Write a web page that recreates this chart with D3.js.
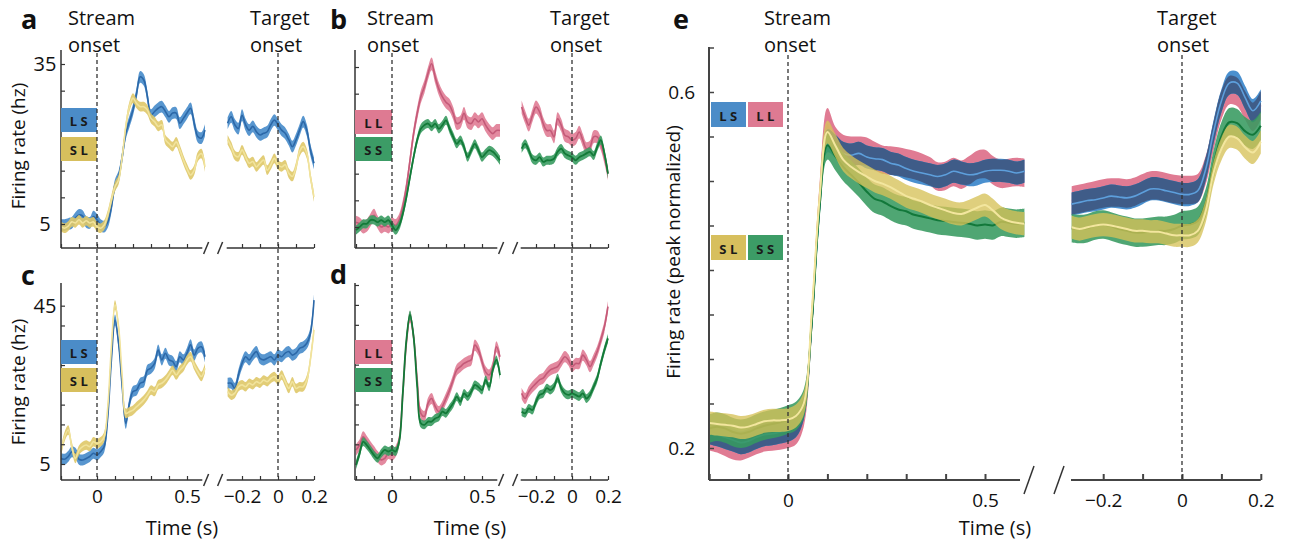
<!DOCTYPE html>
<html><head><meta charset="utf-8">
<script src="https://cdn.jsdelivr.net/npm/d3@7"></script>
<style>
body{margin:0;background:#fff}
svg{display:block}
text{font-family:"Open Sans","Noto Sans",sans-serif;fill:#111}
</style></head>
<body><svg id="chart" width="1295" height="544"></svg>
<script>
// ---------------- DATA ----------------
const tLeft = [-0.2,-0.18,-0.16,-0.14,-0.12,-0.1,-0.08,-0.06,-0.04,-0.02,0,0.02,0.04,0.06,0.08,0.1,0.12,0.14,0.16,0.18,0.2,0.22,0.24,0.26,0.28,0.3,0.32,0.34,0.36,0.38,0.4,0.42,0.44,0.46,0.48,0.5,0.52,0.54,0.56,0.58,0.6];
const tRight = [-0.28,-0.26,-0.24,-0.22,-0.2,-0.18,-0.16,-0.14,-0.12,-0.1,-0.08,-0.06,-0.04,-0.02,0,0.02,0.04,0.06,0.08,0.1,0.12,0.14,0.16,0.18,0.2];

// panel a (Hz)
const aLS_left = [4.8,4.8,5.0,5.2,6.1,6.7,6.5,5.4,5.2,6.4,5.8,4.8,4.5,5.4,8.2,12.3,13.9,17.6,22.0,24.2,26.4,29.5,32.6,32.0,28.9,25.4,26.1,26.7,27.0,26.1,25.1,25.8,25.8,23.9,24.8,25.8,26.7,23.9,21.4,21.1,22.6];
const aSL_left = [4.5,4.2,4.6,5.4,5.2,5.8,5.2,5.6,5.2,5.4,4.5,4.2,4.8,6.7,9.5,12.0,13.3,17.6,23.3,27.0,28.6,27.6,27.0,27.0,26.4,24.8,24.2,23.3,23.6,20.8,20.1,19.5,20.4,18.9,17.0,15.4,14.2,15.1,17.6,18.2,15.7];
const aLS_right = [23.9,25.1,23.6,22.9,25.4,23.6,22.6,23.3,22.3,21.7,22.0,22.3,23.6,24.5,23.6,22.6,22.0,20.8,19.5,20.8,22.6,24.2,22.6,18.9,16.4];
const aSL_right = [20.8,19.5,17.9,17.6,18.9,17.6,16.4,16.7,15.7,16.4,17.0,15.1,16.1,17.3,16.1,15.7,16.1,14.5,13.9,15.7,18.6,19.5,18.2,13.9,10.1];
// panel b
const bLL_left = [5.9,5.6,5.0,5.3,6.3,7.2,5.9,5.0,5.3,5.0,5.6,5.3,6.3,8.8,12.5,17.5,22.5,26.3,29.4,31.3,33.8,35.6,33.1,30.9,29.4,28.4,27.8,26.3,24.4,24.7,26.3,24.7,24.4,25.3,24.7,25.3,24.1,23.1,22.5,23.1,23.1];
const bSS_left = [4.4,5.0,5.6,5.6,6.3,6.3,5.9,6.3,5.9,6.3,5.3,4.4,5.3,7.5,10.6,14.4,18.1,21.3,23.4,24.1,24.4,23.8,24.4,23.4,24.1,25.0,23.4,21.9,20.6,21.3,20.0,18.1,19.4,20.6,19.4,18.1,18.8,19.4,19.1,18.4,17.5];
const bLL_right = [27.5,25.6,24.1,25.9,27.5,26.6,24.4,23.1,23.1,21.9,25.3,24.1,22.2,21.9,21.3,21.6,22.8,21.3,19.7,20.0,21.9,21.9,20.6,18.1,15.0];
const bSS_right = [19.7,20.6,19.4,17.8,17.5,18.1,17.2,17.5,17.5,17.8,19.1,19.7,18.8,18.4,18.1,17.5,18.1,18.4,18.8,19.1,18.4,20.0,21.3,18.8,15.0];
// panel c
const cLS_left = [6.4,6.2,6.9,8.1,7.7,6.2,6.0,6.4,6.9,7.7,7.3,8.1,9.4,17.0,31.3,41.4,35.5,24.5,15.3,20.3,23.3,23.7,25.4,25.8,28.7,29.2,30.4,33.8,31.3,33.0,31.3,30.9,29.6,32.1,31.3,33.0,35.1,32.5,34.2,34.6,32.1];
const cSL_left = [8.1,11.9,13.6,9.4,6.4,8.5,9.4,9.8,9.4,10.6,10.2,10.6,11.9,19.5,34.6,45.2,39.7,27.1,17.8,18.2,18.6,19.5,20.3,21.2,22.4,23.7,23.3,25.0,25.4,26.2,27.5,28.7,27.5,28.7,29.6,31.3,32.1,30.0,28.3,27.1,29.2];
const cLS_right = [25.4,25.4,24.1,27.5,30.4,32.1,31.3,32.5,33.4,31.7,31.3,31.7,32.1,31.3,32.5,32.1,33.0,33.4,32.5,33.0,34.2,34.6,35.5,38.0,46.4];
const cSL_right = [23.3,22.4,22.9,24.5,25.0,24.5,25.4,25.0,25.8,25.4,26.2,25.8,26.6,27.1,26.2,27.5,25.8,24.1,25.8,24.1,24.5,24.5,26.2,31.3,38.9];
// panel d
const dLL_left = [8.6,9.8,11.9,10.7,9.4,8.2,6.9,6.1,6.5,7.7,7.3,8.2,11.1,22.8,35.4,42.0,37.0,26.2,17.8,17.0,20.3,21.5,19.5,18.2,19.5,21.5,23.6,26.2,28.7,29.5,30.3,30.8,31.2,34.9,33.7,30.8,28.2,27.4,29.5,34.5,32.0];
const dSS_left = [4.8,7.7,10.7,9.8,8.6,7.3,6.5,7.7,8.6,8.2,8.6,8.2,10.7,22.8,36.2,42.5,37.0,24.5,15.3,14.9,15.7,15.7,16.5,16.9,18.2,17.8,19.0,20.3,22.0,20.7,22.8,22.0,23.2,24.9,24.4,23.6,26.2,24.4,28.7,31.2,27.4];
const dLL_right = [22.8,21.5,23.2,24.4,25.3,26.2,26.6,27.8,28.7,29.1,29.5,30.8,32.0,31.2,29.5,30.3,30.3,32.4,31.2,29.5,31.2,33.3,36.2,39.5,44.6];
const dSS_right = [18.2,17.8,19.0,18.6,20.7,22.4,22.8,24.1,23.6,24.4,26.6,24.1,22.8,22.4,22.8,22.4,22.0,22.8,21.5,22.4,24.4,26.6,30.3,33.7,36.6];
// panel e (peak normalized)
const eLL_left = [0.213,0.211,0.207,0.203,0.202,0.205,0.209,0.212,0.213,0.214,0.216,0.220,0.240,0.340,0.480,0.566,0.545,0.536,0.534,0.534,0.533,0.528,0.524,0.523,0.522,0.520,0.518,0.515,0.511,0.505,0.506,0.510,0.507,0.512,0.518,0.519,0.512,0.508,0.509,0.510,0.509];
const eLS_left = [0.217,0.215,0.212,0.209,0.206,0.208,0.212,0.215,0.216,0.218,0.220,0.225,0.245,0.340,0.470,0.545,0.539,0.531,0.529,0.531,0.527,0.525,0.524,0.520,0.518,0.514,0.511,0.509,0.507,0.505,0.507,0.511,0.509,0.507,0.508,0.511,0.512,0.512,0.511,0.509,0.511];
const eSS_left = [0.222,0.224,0.222,0.218,0.216,0.218,0.222,0.225,0.227,0.229,0.232,0.236,0.250,0.340,0.470,0.540,0.528,0.516,0.507,0.498,0.488,0.480,0.477,0.472,0.468,0.466,0.462,0.460,0.458,0.456,0.455,0.454,0.453,0.452,0.450,0.451,0.450,0.454,0.453,0.452,0.453];
const eSL_left = [0.228,0.227,0.226,0.225,0.223,0.224,0.227,0.230,0.231,0.231,0.232,0.236,0.250,0.350,0.480,0.555,0.540,0.524,0.516,0.510,0.505,0.500,0.497,0.493,0.488,0.483,0.480,0.477,0.473,0.470,0.467,0.464,0.463,0.466,0.470,0.473,0.467,0.459,0.455,0.453,0.452];
const eLL_right = [0.478,0.480,0.482,0.484,0.486,0.487,0.487,0.486,0.488,0.492,0.495,0.495,0.493,0.491,0.490,0.490,0.492,0.512,0.550,0.585,0.602,0.600,0.585,0.572,0.585];
const eLS_right = [0.474,0.476,0.478,0.479,0.481,0.483,0.482,0.481,0.483,0.487,0.491,0.491,0.489,0.487,0.485,0.485,0.489,0.513,0.555,0.590,0.610,0.610,0.594,0.579,0.590];
const eSS_right = [0.447,0.446,0.447,0.450,0.451,0.449,0.446,0.444,0.442,0.442,0.443,0.444,0.444,0.446,0.450,0.451,0.455,0.475,0.518,0.550,0.566,0.565,0.556,0.552,0.562];
const eSL_right = [0.448,0.446,0.448,0.450,0.451,0.450,0.448,0.446,0.444,0.444,0.443,0.443,0.441,0.439,0.439,0.439,0.444,0.466,0.509,0.536,0.550,0.548,0.538,0.532,0.544];
// band half-widths (s.e.m.)
const semA = {LS:1.1, SL:0.9}, semB = {LL:1.2, SS:0.85}, semC = {LS:1.4, SL:1.2}, semD = {LL:1.4, SS:1.1};
const semE = {LL:0.016, LS:0.013, SS:0.016, SL:0.013};

// tick values / labels
const yTicksA = [5,10,15,20,25,30,35], yLabA = [5,35];
const yTicksB = [5,10,15,20,25,30,35];
const yTicksC = [5,10,15,20,25,30,35,40,45], yLabC = [5,45];
const yTicksD = [10,15,20,25,30,35,40,45,50];
const yTicksE = [0.2,0.25,0.3,0.35,0.4,0.45,0.5,0.55,0.6,0.65], yLabE = [0.2,0.6];
const xTicksL = [-0.2,-0.1,0,0.1,0.2,0.3,0.4,0.5], xLabL = [0,0.5];
const xTicksR = [-0.2,-0.1,0,0.1,0.2], xLabR = [-0.2,0,0.2];

// ---------------- STYLES ----------------
const ST = {
  LS:{band:"#4a8dcb", line:"#2c68a8", op:0.92, lw:1.6, box:"#4b8cc8"},
  SL:{band:"#dfc868", line:"#f1e39c", op:0.9, lw:1.6, box:"#d7bf5d"},
  LL:{band:"#e07c95", line:"#c45a78", op:0.9, lw:1.6, box:"#de7a92"},
  SS:{band:"#3d9d64", line:"#137a38", op:0.92, lw:1.8, box:"#3c9c66"}
};

const svg = d3.select("#chart");
const curve = d3.curveCatmullRom;

function drawSeries(g, x, y, T, v, sem, st, opts={}){
  const pts = T.map((t,i)=>({t, v:v[i]}));
  const area = d3.area().x(d=>x(d.t)).y0(d=>y(d.v-sem)).y1(d=>y(d.v+sem)).curve(curve);
  g.append("path").attr("d", area(pts)).attr("fill", opts.band||st.band).attr("opacity", opts.op||st.op);
  const line = d3.line().x(d=>x(d.t)).y(d=>y(d.v)).curve(curve);
  g.append("path").attr("d", line(pts)).attr("fill","none").attr("stroke", opts.line||st.line).attr("stroke-width", opts.lw||st.lw);
}
function drawOverlap(g, x, y, T, v1, s1, v2, s2, col){
  const pts = T.map((t,i)=>({t, lo:Math.max(v1[i]-s1, v2[i]-s2), hi:Math.min(v1[i]+s1, v2[i]+s2)}));
  const area = d3.area().defined(d=>d.hi>d.lo).x(d=>x(d.t)).y0(d=>y(d.lo)).y1(d=>y(d.hi)).curve(curve);
  g.append("path").attr("d", area(pts)).attr("fill", col);
}

function legendBox(x, y, w, h, label, col){
  svg.append("rect").attr("x",x).attr("y",y).attr("width",w).attr("height",h).attr("fill",col);
  svg.append("text").attr("x",x+w/2+1.5).attr("y",y+h/2+1).attr("text-anchor","middle").attr("dominant-baseline","central")
    .attr("font-size",13).attr("font-weight","bold").attr("letter-spacing","3.5px").style("fill","#1a1a1a").text(label);
}

function xAxis(y0, x, ticks, labs, x1, x2){
  const ax = d3.axisBottom(x).tickValues(ticks).tickSize(-4).tickSizeOuter(0).tickPadding(10)
     .tickFormat(d => labs && labs.some(l=>Math.abs(l-d)<1e-9) ? (d===0?"0":d3.format("")(d)) : "");
  const g = svg.append("g").attr("transform",`translate(0,${y0})`).call(ax);
  g.select(".domain").remove();
  g.append("line").attr("x1",x1).attr("x2",x2).attr("stroke","#333").attr("stroke-width",1.5);
  g.selectAll(".tick line").attr("stroke","#333").attr("stroke-width",1.2);
  g.selectAll(".tick text").attr("font-size",19).attr("font-family",'"Open Sans",sans-serif').style("fill","#111");
  return g;
}
function slash(cx, cy, w, h){
  svg.append("line").attr("x1",cx-w).attr("y1",cy+h).attr("x2",cx+w).attr("y2",cy-h).attr("stroke","#333").attr("stroke-width",1.5);
}
function dashed(x, y1, y2){
  svg.append("line").attr("x1",x).attr("x2",x).attr("y1",y1).attr("y2",y2)
    .attr("stroke","#333").attr("stroke-width",1.3).attr("stroke-dasharray","4,3");
}
function txt(x, y, s, size, anchor="start", weight="normal"){
  return svg.append("text").attr("x",x).attr("y",y).attr("font-size",size).attr("text-anchor",anchor).attr("font-weight",weight).text(s);
}

// ---------------- SMALL PANELS a-d ----------------
const small = [
  {x0:61, z0:97, zR:278, top:50, bot:248, dom:[0.5,37.625], yt:yTicksA, yl:yLabA, s:[["LS",aLS_left,aLS_right,semA.LS],["SL",aSL_left,aSL_right,semA.SL]], leg:[108,137], xl:false, tx:182},
  {x0:355, z0:392, zR:572, top:50, bot:248, dom:[1.06,38.19], yt:yTicksB, yl:[], s:[["LL",bLL_left,bLL_right,semB.LL],["SS",bSS_left,bSS_right,semB.SS]], leg:[110,137], xl:false, tx:470},
  {x0:61, z0:97, zR:278, top:283, bot:480, dom:[0.958,50.73], yt:yTicksC, yl:yLabC, s:[["LS",cLS_left,cLS_right,semC.LS],["SL",cSL_left,cSL_right,semC.SL]], leg:[340,368], xl:true, tx:182},
  {x0:355, z0:392, zR:572, top:283, bot:480, dom:[1.045,50.5], yt:yTicksD, yl:[], s:[["LL",dLL_left,dLL_right,semD.LL],["SS",dSS_left,dSS_right,semD.SS]], leg:[340,368], xl:true, tx:470}
];
const PPS = 180;
small.forEach(p=>{
  const y = d3.scaleLinear().domain(p.dom).range([p.bot,p.top]);
  const xL = d3.scaleLinear().domain([0,1]).range([p.z0, p.z0+PPS]);
  const xR = d3.scaleLinear().domain([0,1]).range([p.zR, p.zR+PPS]);
  const g = svg.append("g");
  p.s.forEach(([k,L,R,sem])=>{
    drawSeries(g, xL, y, tLeft, L, sem, ST[k]);
    drawSeries(g, xR, y, tRight, R, sem, ST[k]);
  });
  // y axis
  const ay = d3.axisLeft(y).tickValues(p.yt).tickSize(-4).tickSizeOuter(0).tickPadding(6)
     .tickFormat(d => p.yl.includes(d) ? d : "");
  const gy = svg.append("g").attr("transform",`translate(${p.x0},0)`).call(ay);
  gy.select(".domain").remove();
  gy.append("line").attr("y1",p.top).attr("y2",p.bot).attr("stroke","#333").attr("stroke-width",1.5);
  gy.selectAll(".tick line").attr("stroke","#333").attr("stroke-width",1.2);
  gy.selectAll(".tick text").attr("font-size",20).attr("text-anchor","middle").attr("x",-16).style("fill","#111");
  // x axis
  xAxis(p.bot, xL, xTicksL, p.xl?xLabL:null, p.x0, xL(0.585));
  xAxis(p.bot, xR, xTicksR, p.xl?xLabR:null, xR(-0.285), xR(0.2));
  slash(xL(0.595)+2, p.bot, 2.5, 6);
  slash(xL(0.595)+16, p.bot, 2.5, 6);
  // legend
  legendBox(p.x0, p.leg[0], p.z0-p.x0, 24, p.s[0][0], ST[p.s[0][0]].box);
  legendBox(p.x0, p.leg[1], p.z0-p.x0, 24, p.s[1][0], ST[p.s[1][0]].box);
  if(p.xl) txt(p.tx, 535, "Time (s)", 20, "middle");
});
// dashed onset lines spanning rows
dashed(97, 53, 480); dashed(278, 53, 480);
dashed(392, 53, 480); dashed(572, 53, 480);

// titles
txt(68,25,"Stream",20); txt(68,52,"onset",20);
txt(250,25,"Target",20); txt(250,52,"onset",20);
txt(367,25,"Stream",20); txt(367,52,"onset",20);
txt(550,25,"Target",20); txt(550,52,"onset",20);
txt(21,29,"a",27,"start","bold"); txt(330,29,"b",27,"start","bold");
txt(21,285,"c",27,"start","bold"); txt(330,284,"d",27,"start","bold");
txt(673,29,"e",27,"start","bold");
svg.append("text").attr("transform","translate(25,146) rotate(-90)").attr("text-anchor","middle").attr("font-size",19).text("Firing rate (hz)");
svg.append("text").attr("transform","translate(25,382) rotate(-90)").attr("text-anchor","middle").attr("font-size",19).text("Firing rate (hz)");

// ---------------- PANEL e ----------------
(function(){
  const top=47, bot=480, x0=709, z0=788, zR=1182, pps=394;
  const y = d3.scaleLinear().domain([0.16404,0.65056]).range([bot,top]);
  const xL = d3.scaleLinear().domain([0,1]).range([z0, z0+pps]);
  const xR = d3.scaleLinear().domain([0,1]).range([zR, zR+pps]);
  const g = svg.append("g");
  [[xL,tLeft,eLL_left,eLS_left,eSS_left,eSL_left],[xR,tRight,eLL_right,eLS_right,eSS_right,eSL_right]].forEach(([x,T,LL,LS,SS,SL])=>{
    drawSeries(g,x,y,T,LL,semE.LL,ST.LL,{band:"#e07b93",line:"#e48aa2",op:1,lw:1.5});
    drawSeries(g,x,y,T,LS,semE.LS,ST.LS,{band:"#4a90cf",line:"#4a90cf",op:1,lw:1.5});
    drawOverlap(g,x,y,T,LS,semE.LS,LL,semE.LL,"#3f5c88");
    g.append("path").attr("d", d3.line().x((d,i)=>x(T[i])).y(d=>y(d)).curve(curve)(LS)).attr("fill","none").attr("stroke","#5d9fdc").attr("stroke-width",1.6);
    drawSeries(g,x,y,T,SS,semE.SS,ST.SS,{band:"#379a60",line:"#12783a",op:0.88,lw:2});
    drawSeries(g,x,y,T,SL,semE.SL,ST.SL,{band:"#d6c258",line:"#f3e69e",op:0.78,lw:2});
  });
  const ay = d3.axisLeft(y).tickValues(yTicksE).tickSize(-5).tickSizeOuter(0).tickPadding(14)
     .tickFormat(d => yLabE.some(l=>Math.abs(l-d)<1e-9) ? d3.format(".1f")(d) : "");
  const gy = svg.append("g").attr("transform",`translate(${x0},0)`).call(ay);
  gy.select(".domain").remove();
  gy.append("line").attr("y1",top).attr("y2",bot).attr("stroke","#444").attr("stroke-width",2);
  gy.selectAll(".tick line").attr("stroke","#444").attr("stroke-width",1.5);
  gy.selectAll(".tick text").attr("font-size",19).style("fill","#111");
  const gl = xAxis(bot, xL, xTicksL, xLabL, x0, 1020);
  const gr = xAxis(bot, xR, xTicksR, xLabR, 1071, xR(0.2));
  [gl,gr].forEach(g2=>{ g2.selectAll(".tick line").attr("y2",-6).attr("stroke","#444").attr("stroke-width",1.5); g2.selectAll("line").attr("stroke-width",2).attr("stroke","#444"); g2.selectAll(".tick text").attr("y",14);});
  slash(1029, 480, 5, 14); slash(1059, 480, 5, 14);
  dashed(z0, 55, bot); dashed(zR, 55, bot);
  legendBox(711,102,35,25,"LS",ST.LS.box); legendBox(748,102,35,25,"LL",ST.LL.box);
  legendBox(711,235,35,25,"SL",ST.SL.box); legendBox(748,235,35,25,"SS",ST.SS.box);
  txt(764,25,"Stream",20); txt(764,52,"onset",20);
  txt(1157,25,"Target",20); txt(1157,52,"onset",20);
  txt(995,535,"Time (s)",20,"middle");
  svg.append("text").attr("transform","translate(680,252) rotate(-90)").attr("text-anchor","middle").attr("font-size",19).text("Firing rate (peak normalized)");
})();
</script>
</body></html>
